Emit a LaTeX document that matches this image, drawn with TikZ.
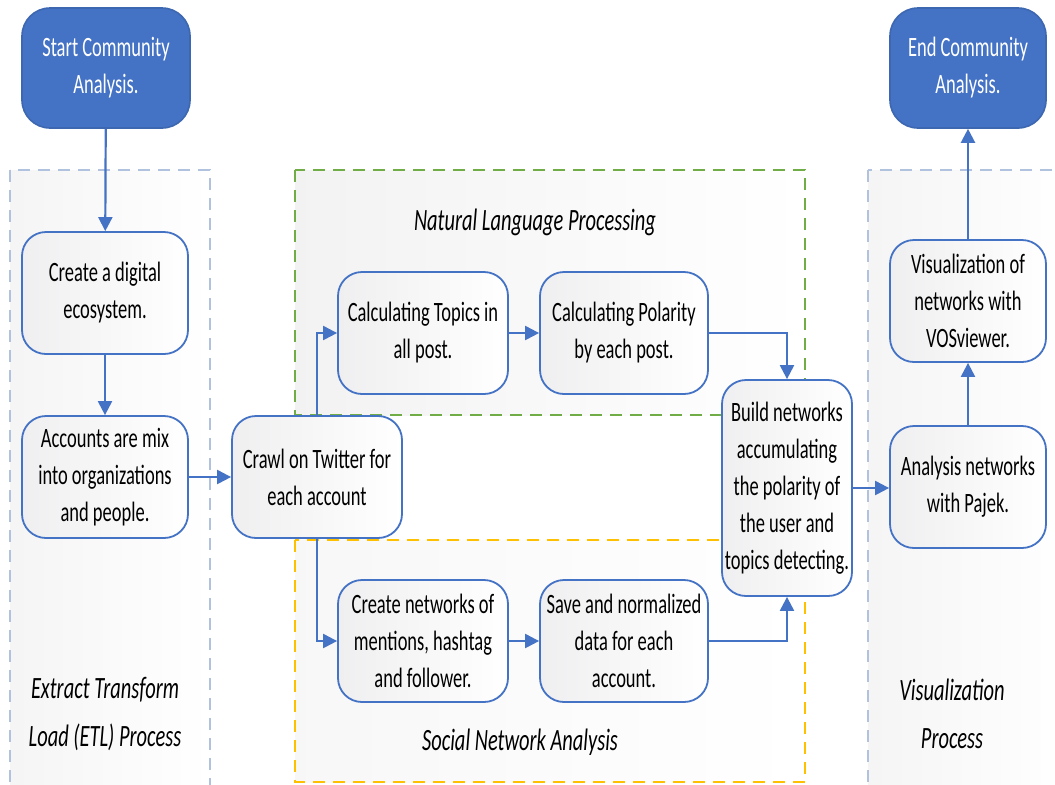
\documentclass[tikz,border=0pt]{standalone}
\usepackage{fontspec}
\setmainfont[FakeStretch=0.66]{Carlito}
\usetikzlibrary{arrows.meta, positioning}

\definecolor{flowblue}{RGB}{68,114,196}
\definecolor{etlgray}{RGB}{176,194,222}
\definecolor{nlpgreen}{RGB}{112,173,71}
\definecolor{snayellow}{RGB}{255,192,0}

\tikzset{
  stepbox/.style={draw=flowblue, line width=0.9pt, rounded corners=12pt,
    left color=blue!5!gray!12, right color=white, align=center, inner sep=1pt},
  termbox/.style={draw=flowblue!90!black, fill=flowblue, line width=0.8pt,
    rounded corners=14pt, text=white, align=center,
    minimum height=60pt},
  frame/.style={dash pattern=on 6pt off 4pt, line width=0.8pt},
  flow/.style={flowblue, line width=1.1pt, -{Triangle[length=7pt,width=7pt]}},
  title/.style={font=\fontsize{15.5}{24}\selectfont\itshape, align=center}
}

\begin{document}
\begin{tikzpicture}[x=0.5pt, y=-0.5pt, font=\fontsize{14}{18.5}\selectfont]
    \clip (0,0) rectangle (1055,784);
    \fill[white] (0,0) rectangle (1055,784);

    % dashed process frames
    \draw[frame, etlgray, left color=gray!8, right color=white] (10,170) rectangle (210,800);
    \draw[frame, etlgray, left color=gray!8, right color=white] (868,170) rectangle (1070,800);
    \draw[frame, nlpgreen, left color=gray!10, right color=white] (295,170) rectangle (805,415);
    \draw[frame, snayellow, left color=gray!6, right color=white] (295,540) rectangle (805,782);

    \node[title] (etltitle) at (105,714) {Extract Transform\\Load (ETL) Process};
    \node[title] (nlptitle) at (535,222) {Natural Language Processing};
    \node[title] (snatitle) at (520,742) {Social Network Analysis};
    \node[title] (vistitle) at (952,714) {Visualization\\Process};

    % start and end
    \node[termbox, minimum width=84pt] (start) at (106,68) {Start Community\\Analysis.};
    \node[termbox, minimum width=78pt] (end) at (968,68) {End Community\\Analysis.};

    % ETL steps
    \node[stepbox, minimum width=83pt, minimum height=61pt] (eco) at (105,293) {Create a digital\\ecosystem.};
    \node[stepbox, minimum width=83pt, minimum height=61pt] (acc) at (105,477) {Accounts are mix\\into organizations\\and people.};
    \node[stepbox, minimum width=85pt, minimum height=61pt] (crawl) at (317,477) {Crawl on Twitter for\\each account};

    % NLP and SNA steps
    \node[stepbox, minimum width=85pt, minimum height=61pt] (topics) at (423,333) {Calculating Topics in\\all post.};
    \node[stepbox, minimum width=84pt, minimum height=61pt] (polarity) at (624,333) {Calculating Polarity\\by each post.};
    \node[stepbox, minimum width=85pt, minimum height=61pt] (mentions) at (423,641) {Create networks of\\mentions, hashtag\\and follower.};
    \node[stepbox, minimum width=84pt, minimum height=61pt] (save) at (624,641) {Save and normalized\\data for each\\account.};
    \node[stepbox, minimum width=65pt, minimum height=108pt] (build) at (787,488) {Build networks\\accumulating\\the polarity of\\the user and\\topics detecting.};

    % visualization steps
    \node[stepbox, minimum width=78pt, minimum height=61pt] (pajek) at (968,487) {Analysis networks\\with Pajek.};
    \node[stepbox, minimum width=78pt, minimum height=61pt] (vos) at (968,301) {Visualization of\\networks with\\VOSviewer.};

    % connectors
    \draw[flow] (start) -- (eco);
    \draw[flow] (eco) -- (acc);
    \draw[flow] (acc) -- (crawl);
    \draw[flow] (crawl.north) |- (topics.west);
    \draw[flow] (crawl.south) |- (mentions.west);
    \draw[flow] (topics) -- (polarity);
    \draw[flow] (mentions) -- (save);
    \draw[flow] (polarity.east) -| (build.north);
    \draw[flow] (save.east) -| (build.south);
    \draw[flow] (build.east) -- (build.east -| pajek.west);
    \draw[flow] (pajek) -- (vos);
    \draw[flow] (vos) -- (end);
\end{tikzpicture}
\end{document}
